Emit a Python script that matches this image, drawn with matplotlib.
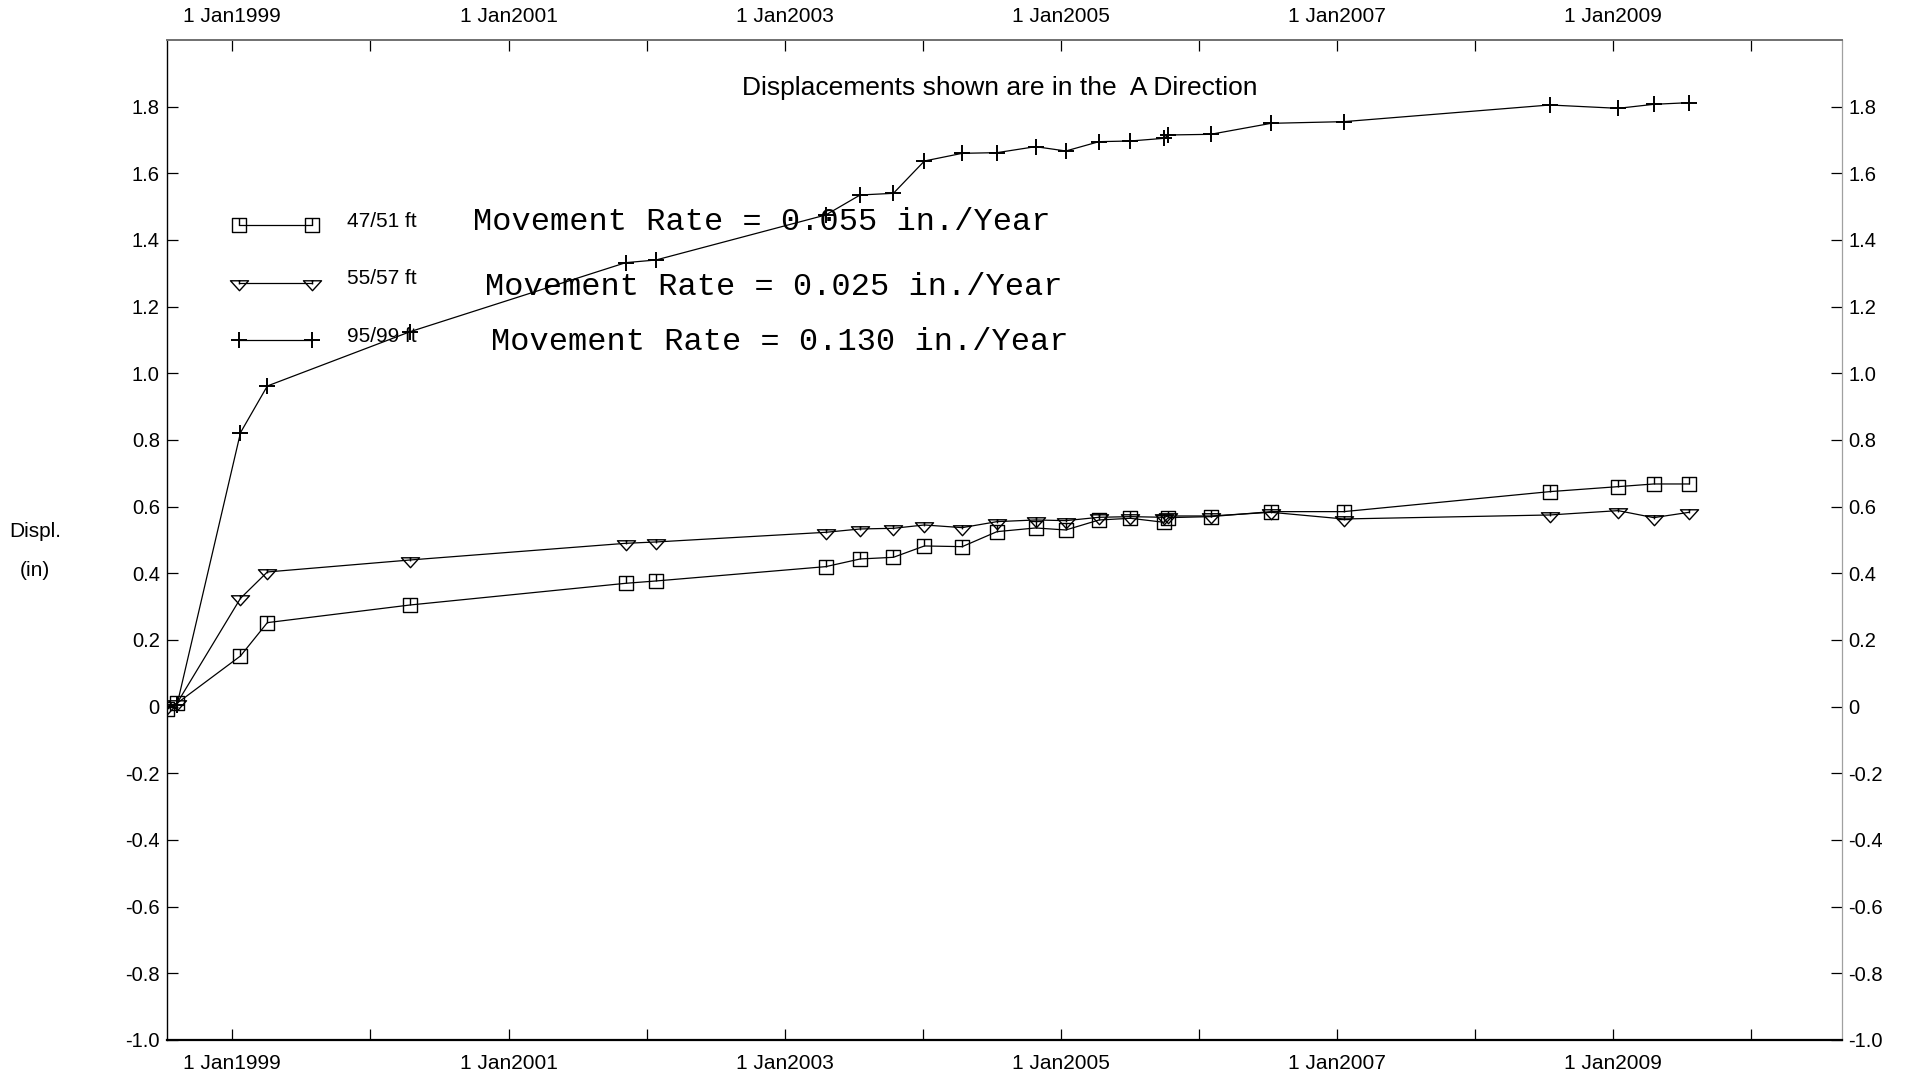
import numpy as np
import pandas as pd
import matplotlib
matplotlib.use('Agg')
import matplotlib.pyplot as plt
import matplotlib.dates as mdates
from matplotlib.path import Path
from matplotlib.ticker import FuncFormatter, FixedLocator

plt.rcParams['font.family'] = ['Liberation Sans', 'DejaVu Sans']

# survey dates and cumulative displacement (in) per depth
dates = pd.to_datetime([
    '1998-07-13', '1998-08-08', '1999-01-23', '1999-04-04', '2000-04-16',
    '2001-11-07', '2002-01-26', '2003-04-20', '2003-07-20', '2003-10-16',
    '2004-01-06', '2004-04-15', '2004-07-16', '2004-10-26', '2005-01-14',
    '2005-04-12', '2005-07-04', '2005-10-01', '2005-10-12', '2006-02-01',
    '2006-07-11', '2007-01-19', '2008-07-17', '2009-01-14', '2009-04-18',
    '2009-07-21'])
d47 = [-0.008, 0.01, 0.152, 0.252, 0.305, 0.370, 0.377, 0.420, 0.443, 0.448,
       0.482, 0.480, 0.525, 0.536, 0.530, 0.560, 0.565, 0.553, 0.567, 0.570,
       0.585, 0.585, 0.645, 0.660, 0.668, 0.668]
d55 = [0.0, 0.01, 0.325, 0.404, 0.440, 0.490, 0.494, 0.523, 0.533, 0.535,
       0.545, 0.537, 0.555, 0.560, 0.558, 0.568, 0.570, 0.568, 0.572, 0.572,
       0.583, 0.563, 0.575, 0.588, 0.567, 0.583]
d95 = [0.0, 0.005, 0.822, 0.962, 1.125, 1.332, 1.340, 1.475, 1.535, 1.540,
       1.637, 1.660, 1.662, 1.680, 1.667, 1.695, 1.697, 1.705, 1.715, 1.717,
       1.750, 1.755, 1.805, 1.795, 1.807, 1.812]
labels = ['47/51 ft', '55/57 ft', '95/99 ft']
rates = ['Movement Rate = 0.055 in./Year',
         'Movement Rate = 0.025 in./Year',
         'Movement Rate = 0.130 in./Year']

# markers: notched square, hanging triangle, plus
sq = Path([(-1, -1), (1, -1), (1, 1), (-1, 1), (-1, -1), (0, 1), (0, 0)],
          [Path.MOVETO, Path.LINETO, Path.LINETO, Path.LINETO, Path.CLOSEPOLY,
           Path.MOVETO, Path.LINETO])
tri = Path([(-1, 0.3), (1, 0.3), (0, -0.8), (-1, 0.3), (0, 0.3), (0, -0.1)],
           [Path.MOVETO, Path.LINETO, Path.LINETO, Path.CLOSEPOLY,
            Path.MOVETO, Path.LINETO])

fig = plt.figure(figsize=(19.06, 10.78), dpi=100)
ax = fig.add_axes([0.0875, 0.0353, 0.8787, 0.9276])

kw = dict(color='black', lw=0.9, mfc='none', mec='black', mew=1.0)
ax.plot(dates, d47, marker=sq, ms=9.5, label=labels[0], **kw)
ax.plot(dates, d55, marker=tri, ms=13, label=labels[1], **kw)
ax.plot(dates, d95, marker='+', ms=11, mew=1.4, label=labels[2],
        color='black', lw=0.9)

ax.set_xlim(pd.Timestamp('1998-07-12'), pd.Timestamp('2010-08-28'))
ax.set_ylim(-1.0, 2.0)

ax.xaxis.set_major_locator(mdates.YearLocator(1))
ax.xaxis.set_major_formatter(FuncFormatter(
    lambda v, p: '1 Jan%d' % mdates.num2date(v).year
    if mdates.num2date(v).year % 2 == 1 else ''))
yt = np.round(np.arange(-1.0, 1.81, 0.2), 1)
ax.yaxis.set_major_locator(FixedLocator(yt))
ax.yaxis.set_major_formatter(FuncFormatter(
    lambda v, p: '0' if abs(v) < 1e-9 else '%.1f' % v))

ax.tick_params(axis='both', direction='in', length=8, width=0.9,
               labelsize=14.5, top=True, right=True,
               labeltop=True, labelright=True)
ax.tick_params(axis='x', pad=10, labelsize=15)
ax.tick_params(axis='y', pad=5)

for s in ['left', 'bottom']:
    ax.spines[s].set_color('black')
ax.spines['left'].set_linewidth(1.0)
ax.spines['bottom'].set_linewidth(1.6)
ax.spines['top'].set_color('#707070')
ax.spines['top'].set_linewidth(1.4)
ax.spines['right'].set_color('#a0a0a0')
ax.spines['right'].set_linewidth(0.9)

ax.text(0.4975, 0.952, 'Displacements shown are in the  A Direction',
        transform=ax.transAxes, ha='center', va='center', fontsize=19)

for i, (tx, ty) in enumerate([(0.1828, 0.8175), (0.19, 0.753), (0.1936, 0.698)]):
    ax.text(tx, ty, rates[i], transform=ax.transAxes, ha='left', va='center',
            fontsize=23, family=['Liberation Mono', 'DejaVu Sans Mono'])

leg = ax.legend(loc='center left', bbox_to_anchor=(0.040, 0.757),
                frameon=False, numpoints=2, handlelength=5.0,
                handletextpad=1.8, labelspacing=2.3, borderpad=0,
                borderaxespad=0, fontsize=12)
for t in leg.get_texts():
    t.set_family(['Liberation Sans Narrow', 'Liberation Sans'])
    t.set_fontsize(15)
    t.set_va('bottom')

fig.text(35 / 1906, 1 - 532 / 1078, 'Displ.', ha='center', va='center',
         fontsize=15)
fig.text(35 / 1906, 1 - 570 / 1078, '(in)', ha='center', va='center',
         fontsize=15)

fig.savefig('out.png', dpi=100)
